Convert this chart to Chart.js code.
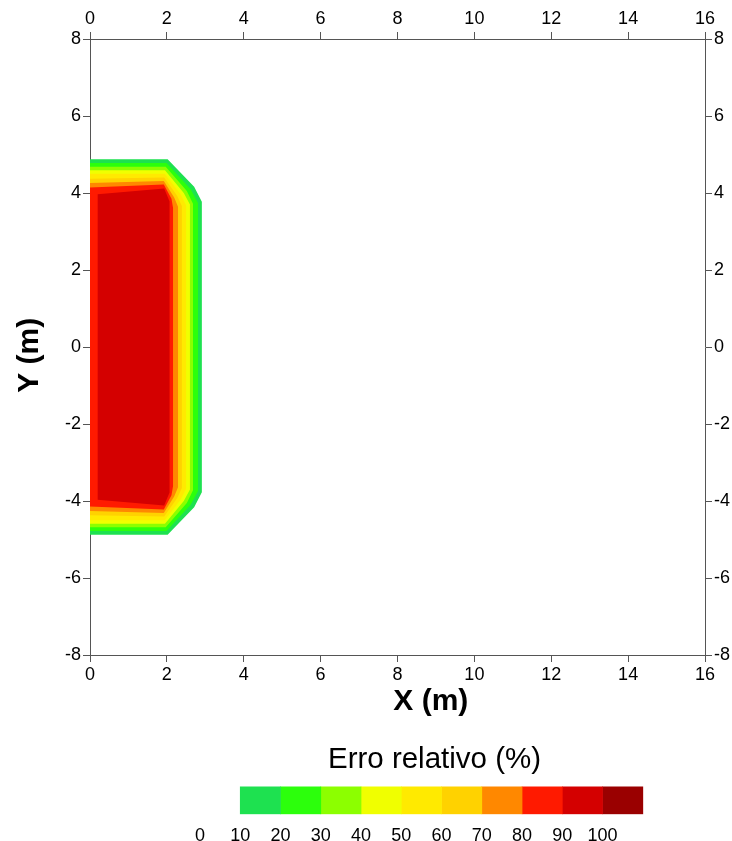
<!DOCTYPE html>
<html lang="pt">
<head>
<meta charset="utf-8">
<title>Erro relativo</title>
<script src="https://cdn.jsdelivr.net/npm/chart.js@4.4.0/dist/chart.umd.min.js"></script>
<style>
  body { margin: 0; background: #fff; }
  #grafico { position: absolute; left: 0; top: 0; }
  #escala { position: absolute; left: 180px; top: 735px; }
</style>
</head>
<body>
<canvas id="grafico" width="732" height="720"></canvas>
<canvas id="escala" width="508" height="106"></canvas>
<script>
// níveis de contorno do erro relativo (%)
const niveis = [10, 20, 30, 40, 50, 60, 70, 80, 90];
// cor de cada faixa: 10-20, 20-30, ..., 100-110
const coresFaixas = ['#1ee150', '#2cff0c', '#8cff00', '#f0ff00', '#ffea00',
                     '#ffd200', '#ff8800', '#ff1a00', '#d40000', '#9a0000'];
const limitesFaixas = [10, 20, 30, 40, 50, 60, 70, 80, 90, 100, 110];

// metade superior de cada contorno (m), partindo do eixo x = 0
const contornoX = [
  [0, 2.02, 2.71, 2.91],
  [0, 1.99, 2.62, 2.81],
  [0, 1.97, 2.52, 2.68],
  [0, 1.95, 2.44, 2.60],
  [0, 1.94, 2.36, 2.50],
  [0, 1.93, 2.27, 2.39],
  [0, 1.92, 2.19, 2.29],
  [0, 1.92, 2.12, 2.16],
  [0.2, 1.93, 2.07]
];
const contornoY = [
  [4.875, 4.875, 4.16, 3.77],
  [4.78, 4.78, 4.10, 3.74],
  [4.68, 4.68, 4.05, 3.72],
  [4.59, 4.59, 4.00, 3.70],
  [4.50, 4.50, 3.96, 3.68],
  [4.37, 4.40, 3.92, 3.66],
  [4.26, 4.31, 3.88, 3.64],
  [4.14, 4.22, 3.85, 3.62],
  [3.97, 4.12, 3.78]
];

const ticksX = [0, 2, 4, 6, 8, 10, 12, 14, 16];
const ticksY = [-8, -6, -4, -2, 0, 2, 4, 6, 8];
const rotulosEscala = [0, 10, 20, 30, 40, 50, 60, 70, 80, 90, 100];

Chart.defaults.font.family = "'Liberation Sans', Arial, sans-serif";
Chart.defaults.color = '#000';

// fecha o contorno espelhando a metade superior (simétrico em y = 0)
function poligono(i)
{
	const xs = contornoX[i];
	const ys = contornoY[i];
	const pts = xs.map((x, k) => ({ x: x, y: ys[k] }));
	for (let k = xs.length - 1; k >= 0; k--)
	{
		pts.push({ x: xs[k], y: -ys[k] });
	}
	return pts;
}

function eixo(posicao, min, max, marcas, tamanho, titulo)
{
	const horizontal = posicao === 'top' || posicao === 'bottom';
	return {
		type: 'linear',
		position: posicao,
		min: min,
		max: max,
		afterBuildTicks: function(s) { s.ticks = marcas.map(v => ({ value: v })); },
		afterFit: function(s) { if (horizontal) s.height = tamanho; else s.width = tamanho; },
		ticks: { font: { size: 18 }, color: '#000', padding: 2, maxRotation: 0, autoSkip: false },
		grid: { drawOnChartArea: false, tickLength: 7, color: '#555', tickWidth: 1 },
		border: { color: '#555', width: 1 },
		title: titulo ? {
			display: true,
			text: titulo,
			color: '#000',
			font: { size: 30, weight: 'bold' },
			padding: horizontal ? { top: 0, bottom: 0 } : { top: 12, bottom: 0 }
		} : { display: false }
	};
}

const datasets = niveis.map((nivel, i) => ({
	label: nivel + '%',
	data: poligono(i),
	showLine: true,
	fill: 'shape',
	backgroundColor: coresFaixas[i],
	borderColor: 'rgba(0,0,0,0)',
	borderWidth: 0,
	pointRadius: 0,
	tension: 0,
	order: niveis.length - i
}));

new Chart(document.getElementById('grafico'), {
	type: 'scatter',
	data: { datasets: datasets },
	options: {
		responsive: false,
		animation: false,
		layout: { padding: 0 },
		plugins: { legend: { display: false }, tooltip: { enabled: false } },
		scales: {
			// espaços deslocam os títulos em relação ao centro do eixo
			x: eixo('bottom', 0, 16, ticksX, 65, '        X (m)'),
			x2: eixo('top', 0, 16, ticksX, 39),
			y: eixo('left', -8, 8, ticksY, 90, 'Y (m)  '),
			y2: eixo('right', -8, 8, ticksY, 27)
		}
	}
});

// barra de cores com as faixas de erro
new Chart(document.getElementById('escala'), {
	type: 'bar',
	data: {
		labels: [''],
		datasets: coresFaixas.map((cor, i) => ({
			data: [[limitesFaixas[i], limitesFaixas[i + 1]]],
			backgroundColor: cor,
			borderWidth: 0,
			barPercentage: 1,
			categoryPercentage: 1,
			grouped: false
		}))
	},
	options: {
		indexAxis: 'y',
		responsive: false,
		animation: false,
		layout: { padding: { left: 20, right: 19, top: 0, bottom: 0 } },
		plugins: {
			legend: { display: false },
			tooltip: { enabled: false },
			title: {
				display: true,
				text: 'Erro relativo (%)',
				color: '#000',
				font: { size: 29.5, weight: 'normal' },
				padding: { top: 7, bottom: 9 }
			}
		},
		scales: {
			x: {
				type: 'linear',
				min: 0,
				// folga à direita para centralizar o título sobre a barra
				max: 116.5,
				afterBuildTicks: function(s) { s.ticks = rotulosEscala.map(v => ({ value: v })); },
				afterFit: function(s) { s.height = 26.7; },
				grid: { display: false },
				border: { display: false },
				ticks: { font: { size: 18 }, color: '#000', padding: 3, maxRotation: 0, autoSkip: false }
			},
			y: { display: false }
		}
	}
});
</script>
</body>
</html>
